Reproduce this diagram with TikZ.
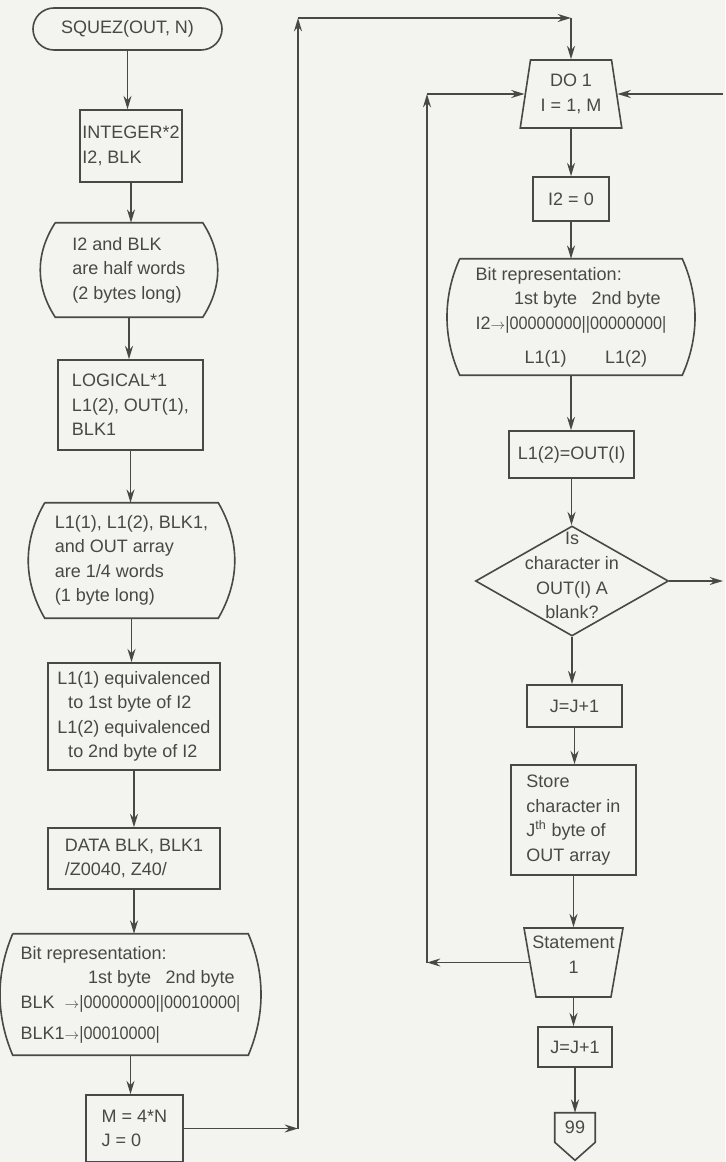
\documentclass[tikz,border=0pt]{standalone}
\usepackage{fontspec}
\setmainfont{Liberation Sans}
\usetikzlibrary{shapes.geometric,shapes.misc,arrows.meta,calc}
\definecolor{ink}{RGB}{72,72,70}
\definecolor{paper}{RGB}{243,243,240}
\newcommand\bitsf[1]{{\addfontfeature{FakeStretch=0.9}#1}}
\newcommand\arrw{{\fontsize{10.5}{10.5}\selectfont$\rightarrow$}}
\newcommand\dispshape[3]{\draw[line] (#1.north west) -- (#1.north east) .. controls +(#2,#3) and +(#2,-#3) .. (#1.south east) -- (#1.south west) .. controls +(-#2,-#3) and +(-#2,#3) .. (#1.north west);}
\tikzset{
 line/.style={draw=ink, line width=1.2pt},
 arr/.style={draw=ink, line width=1.2pt, -{Stealth[length=10pt,width=6pt]}},
 txt/.style={font=\fontsize{13.5}{18.4}\selectfont, text=ink},
 box/.style={line, txt, rectangle, inner sep=0pt},
 plain/.style={txt, rectangle, inner sep=0pt},
 bw/.style={minimum width=#1*0.75pt},
 bh/.style={minimum height=#1*0.75pt},
 trap/.style={box, trapezium, trapezium left angle=79, trapezium right angle=79, trapezium stretches=true},
}
\begin{document}
\begin{tikzpicture}[x=0.75pt,y=-0.75pt]
\useasboundingbox (0,0) rectangle (725,1162);
\fill[paper] (0,0) rectangle (725,1162);
\clip (0,0) rectangle (725,1162);

% ---------- left column ----------
\node[box, rounded rectangle, bw=189, bh=42] (start) at (127.5,29) {SQUEZ(OUT, N)};
\node[box, bw=102, bh=72, align=left] (int) at (131,146) {INTEGER*2\\I2, BLK};
\node[plain, bw=147, bh=94, align=left] (half) at (129,270) {I2 and BLK\\are half words\\(2 bytes long)};
\dispshape{half}{20}{31}
\node[box, bw=145, bh=90, align=left] (logical) at (130.5,405) {LOGICAL*1\\L1(2), OUT(1),\\BLK1};
\node[plain, bw=173, bh=115, align=left] (quarter) at (131.5,560.5) {L1(1), L1(2), BLK1,\\and OUT array\\are 1/4 words\\(1 byte long)};
\dispshape{quarter}{22}{38}
\node[box, bw=172, bh=107, align=left] (equiv) at (134,716.5) {L1(1) equivalenced\\\hspace*{0.6em}to 1st byte of I2\\L1(2) equivalenced\\\hspace*{0.6em}to 2nd byte of I2};
\node[box, bw=172, bh=61, align=left] (data) at (134,858.5) {DATA BLK, BLK1\\/Z0040, Z40/};
\node[plain, bw=235, bh=121] (bitL) at (130.5,994.5) {\begin{tabular}{@{}l@{}c@{}c@{}}
\multicolumn{3}{@{}l@{}}{Bit representation:}\\
 & 1st byte & 2nd byte\\
BLK\hfill\arrw & \bitsf{|00000000|} & \bitsf{|00010000|}\\[5pt]
BLK1\arrw & \bitsf{|00010000|} & \\
\end{tabular}};
\dispshape{bitL}{17}{40}
\node[box, bw=97, bh=67, align=left] (mbox) at (134.5,1128.5) {M = 4*N\\J = 0};

\foreach \a/\b in {start/int,int/half,half/logical,logical/quarter,quarter/equiv,equiv/data,data/bitL,bitL/mbox}
  \draw[arr] (\a.south) -- (\a.south |- \b.north);

% ---------- right column ----------
\node[trap, bw=102, bh=68, align=center] (do1) at (571,94) {DO 1\\I = 1, M};
\node[box, bw=76, bh=44] (i2) at (571,199) {I2 = 0};
\node[plain, bw=222, bh=116] (bitR) at (571,317) {\begin{tabular}{@{}l@{}c@{}c@{}}
\multicolumn{3}{@{}l@{}}{Bit representation:}\\
 & 1st byte & 2nd byte\\
I2\arrw & \bitsf{|00000000|} & \bitsf{|00000000|}\\[7pt]
 & L1(1) & L1(2)\\
\end{tabular}};
\dispshape{bitR}{17}{38}
\node[box, bw=125, bh=47] (l12) at (571.5,454.5) {L1(2)=OUT(I)};
\node[line, diamond, bw=193, bh=110, inner sep=0pt,
  label={[txt, align=center, yshift=4pt]center:Is\\character in\\OUT(I) A\\blank?}] (dia) at (572,581) {};
\node[box, bw=95, bh=42] (jj1) at (574.5,706) {J=J+1};
\node[box, bw=125, bh=110, align=left] (store) at (573.5,820) {Store\\character in\\J\textsuperscript{th} byte of\\OUT array};
\node[trap, shape border rotate=180, bw=99, bh=69,
  label={[txt, align=center, yshift=6pt]center:Statement\\1}] (stmt) at (573.5,962.5) {\phantom{M}};
\node[box, bw=74, bh=40] (jj2) at (575,1047) {J=J+1};
\node[plain, bw=40, bh=29] (p99) at (575,1127.5) {99};
\draw[line] (p99.north west) -- (p99.north east) -- (p99.south east) -- ($(p99.south)+(0,18)$) -- (p99.south west) -- cycle;

\foreach \a/\b in {do1/i2,i2/bitR,bitR/l12,l12/dia,dia/jj1,jj1/store,store/stmt,stmt/jj2,jj2/p99}
  \draw[arr] (\a.south) -- (\a.south |- \b.north);

% ---------- loops and long connectors ----------
\coordinate (lx) at (427,0);
\coordinate (rx) at (723,0);
\coordinate (ux) at (298,0);
\coordinate (uy) at (0,18);
\draw[arr] (stmt.west) -- (stmt.west -| lx);
\draw[arr] (stmt.west -| lx) -- (do1.west -| lx);
\draw[arr] (do1.west -| lx) -- (do1.west);
\draw[arr] (do1.east -| rx) -- (do1.east);
\draw[arr] (dia.east) -- (dia.east -| rx);
\draw[arr] (mbox.east) -- (mbox.east -| ux);
\draw[arr] (mbox.east -| ux) -- (ux |- uy);
\draw[arr] (ux |- uy) -- (do1.north |- uy);
\draw[arr] (do1.north |- uy) -- (do1.north);
\end{tikzpicture}
\end{document}
